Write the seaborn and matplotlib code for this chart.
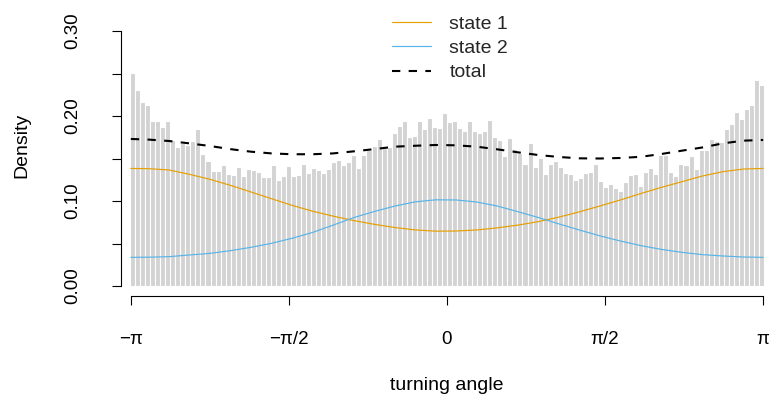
import numpy as np
import pandas as pd
import matplotlib
matplotlib.use("Agg")
import matplotlib.pyplot as plt
import seaborn as sns

# ---------------- data ----------------
bin_width = 0.05
bin_start = -3.15
bin_end = 3.15
density = [
    0.251, 0.231, 0.216, 0.213, 0.194, 0.194, 0.187, 0.194, 0.172, 0.164,
    0.168, 0.166, 0.171, 0.185, 0.155, 0.147, 0.135, 0.135, 0.142, 0.132,
    0.131, 0.140, 0.129, 0.138, 0.136, 0.134, 0.128, 0.128, 0.142, 0.125,
    0.129, 0.141,
    0.129, 0.131, 0.144, 0.133, 0.139, 0.136, 0.133, 0.138, 0.146, 0.148,
    0.142, 0.146, 0.154, 0.139, 0.154, 0.160, 0.165, 0.173, 0.162, 0.164,
    0.180, 0.188, 0.194, 0.175, 0.176, 0.194, 0.185, 0.198, 0.187, 0.186,
    0.203, 0.193,
    0.194, 0.1855, 0.182, 0.194, 0.182, 0.180, 0.182, 0.195, 0.175, 0.172,
    0.153, 0.174, 0.161, 0.157, 0.144, 0.168, 0.140, 0.151, 0.132, 0.143,
    0.147, 0.140, 0.133, 0.132, 0.125, 0.127, 0.133, 0.134, 0.144, 0.124,
    0.117, 0.120,
    0.115, 0.112, 0.122, 0.131, 0.132, 0.118, 0.134, 0.139, 0.132, 0.154,
    0.154, 0.134, 0.129, 0.144, 0.142, 0.153, 0.138, 0.160, 0.160, 0.173,
    0.171, 0.170, 0.185, 0.191, 0.205, 0.197, 0.208, 0.213, 0.242, 0.237,
]

angles = [-3.1416, -2.96, -2.763, -2.560, -2.355, -2.151, -1.947, -1.744,
          -1.540, -1.336, -1.132, -0.928, -0.724, -0.520, -0.316, -0.112,
          0.091, 0.295, 0.499, 0.703, 0.907, 1.111, 1.315, 1.519, 1.723,
          1.927, 2.130, 2.334, 2.538, 2.742, 2.946, 3.1416]
state1 = [0.1383, 0.1380, 0.1365, 0.1314, 0.1255, 0.1184, 0.1106, 0.1027,
          0.0949, 0.0880, 0.0822, 0.0770, 0.0726, 0.0688, 0.0660, 0.0645,
          0.0647, 0.0659, 0.0684, 0.0716, 0.0757, 0.0810, 0.0872, 0.0941,
          0.1012, 0.1088, 0.1160, 0.1227, 0.1294, 0.1345, 0.1376, 0.1383]
state2 = [0.0337, 0.0339, 0.0345, 0.0365, 0.0384, 0.0416, 0.0455, 0.0502,
          0.0561, 0.0630, 0.0716, 0.0804, 0.0876, 0.0940, 0.0990, 0.1014,
          0.1012, 0.0988, 0.0941, 0.0875, 0.0806, 0.0731, 0.0659, 0.0590,
          0.0529, 0.0475, 0.0431, 0.0396, 0.0369, 0.0353, 0.0341, 0.0337]
total = [0.1730, 0.1722, 0.1706, 0.1678, 0.1647, 0.1610, 0.1580, 0.1560,
         0.1550, 0.1550, 0.1560, 0.1584, 0.1610, 0.1639, 0.1650, 0.1659,
         0.1655, 0.1639, 0.1608, 0.1573, 0.1541, 0.1518, 0.1502, 0.1500,
         0.1506, 0.1520, 0.1553, 0.1592, 0.1630, 0.1678, 0.1710, 0.1718]

xtick_vals = [-np.pi, -np.pi / 2, 0, np.pi / 2, np.pi]
xtick_labels = ["\u2212\u03c0", "\u2212\u03c0/2", "0", "\u03c0/2", "\u03c0"]
ytick_vals = [0.0, 0.10, 0.20, 0.30]
ytick_labels = ["0.00", "0.10", "0.20", "0.30"]

# ---------------- style ----------------
sns.set_theme(style="white")
plt.rcParams["font.family"] = ["Liberation Sans", "DejaVu Sans"]

W, H = 770, 401
fig = plt.figure(figsize=(W / 100, H / 100), dpi=100)
ax = fig.add_axes([130 / W, (H - 286) / H, 634 / W, 255 / H])

n = len(density)
centers = bin_start + bin_width * (np.arange(n) + 0.5)
hist_df = pd.DataFrame({"angle": centers, "density": density})

sns.histplot(data=hist_df, x="angle", weights="density", binwidth=bin_width,
             binrange=(bin_start, bin_end), stat="count",
             color="#D3D3D3", edgecolor="white", linewidth=0.8, alpha=1,
             ax=ax)

curve_df = pd.DataFrame({"angle": angles, "s1": state1, "s2": state2,
                         "tot": total})
sns.lineplot(data=curve_df, x="angle", y="s1", color="#E69F00", lw=0.85,
             label="state 1", ax=ax)
sns.lineplot(data=curve_df, x="angle", y="s2", color="#56B4E9", lw=0.85,
             label="state 2", ax=ax)
sns.lineplot(data=curve_df, x="angle", y="tot", color="black", lw=1.5,
             linestyle=(0, (4, 4)), label="total", ax=ax)

ax.set_xlim(-3.15, 3.15)
ax.set_ylim(0, 0.30)
ax.set_xlabel("")
ax.set_ylabel("")

for s in ["top", "right"]:
    ax.spines[s].set_visible(False)
ax.spines["left"].set_position(("outward", 6.5))
ax.spines["bottom"].set_position(("outward", 7.2))
ax.spines["left"].set_bounds(0, 0.30)
ax.spines["bottom"].set_bounds(-np.pi, np.pi)
for s in ["left", "bottom"]:
    ax.spines[s].set_color("black")
    ax.spines[s].set_linewidth(0.8)

ax.set_xticks(xtick_vals)
ax.set_xticklabels(xtick_labels, fontsize=13.5)
ax.set_yticks(ytick_vals)
ax.set_yticklabels(ytick_labels, fontsize=13.5, rotation=90, va="center")
ax.set_yticks([0.05, 0.15, 0.25], minor=True)
ax.tick_params(axis="both", which="both", direction="out", length=6.5,
               width=0.8, color="black", labelcolor="black",
               bottom=True, left=True)
ax.tick_params(axis="x", which="major", pad=18.5)
ax.tick_params(axis="y", which="major", pad=22)

fig.text(22 / W, 1 - 145 / H, "Density", rotation=90, ha="center",
         va="center", fontsize=14, color="black")
fig.text(447 / W, 1 - 385 / H, "turning angle", ha="center", va="center",
         fontsize=14, color="black")

ax.legend(loc="upper left", bbox_to_anchor=(392 / W, 1 - 15 / H),
          bbox_transform=fig.transFigure, frameon=False, borderpad=0,
          borderaxespad=0, handlelength=2.0, handletextpad=0.95,
          labelspacing=0.35, fontsize=14)

fig.savefig("out.png", dpi=100)
